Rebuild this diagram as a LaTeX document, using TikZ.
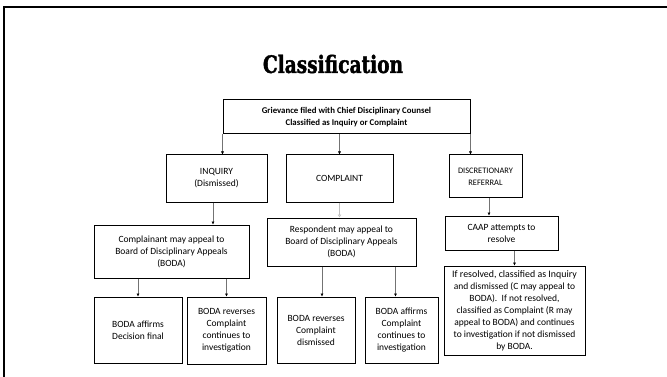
\documentclass[tikz,border=0pt]{standalone}
\usepackage{fontspec}
\setmainfont{Carlito}
\newfontfamily\titlefont[FakeBold=1.6]{DejaVu Serif Condensed Bold}
\usetikzlibrary{arrows.meta}
\newcommand\boxat[6]{\node[box, minimum width={#4-#2}, minimum height={#5-#3}] (#1) at ({(#2+#4)/2},{(#3+#5)/2}) {#6};}
\begin{document}
\begin{tikzpicture}[x=1pt,y=-1pt,
  box/.style={draw=black, line width=1pt, fill=white, inner sep=0pt, align=center, font=\fontsize{9.5}{12}\selectfont},
  conn/.style={draw=black!55, line width=0.5pt, -{Latex[length=3pt,width=3pt,black]}},
  faint/.style={draw=black!25, line width=0.6pt, -{Latex[length=3pt,width=4pt,open,black!25]}},
  frame/.style={draw=black, line width=2pt},
]
\useasboundingbox (0,0) rectangle (667,377);
\draw[frame] (4,378) -- (4,7.5) -- (668,7.5);
\node (title) at (333,64) {\titlefont\fontsize{24}{28}\selectfont\scalebox{0.86}[1]{Classification}};

\boxat{top}{223}{100}{470}{134}{\bfseries\fontsize{8.8}{12}\selectfont Grievance filed with Chief Disciplinary Counsel\\ \bfseries\fontsize{8.8}{12}\selectfont Classified as Inquiry or Complaint}
\boxat{inq}{166}{155}{267}{202}{INQUIRY\\(Dismissed)}
\boxat{comp}{286}{155}{393}{202}{COMPLAINT}
\boxat{disc}{449}{155}{522}{198}{\fontsize{8.4}{10.5}\selectfont DISCRETIONARY\\ \fontsize{8.4}{10.5}\selectfont REFERRAL}
\boxat{cmpl}{94}{225}{249}{278}{Complainant may appeal to\\Board of Disciplinary Appeals\\(BODA)}
\boxat{resp}{267}{218}{416}{266}{Respondent may appeal to\\Board of Disciplinary Appeals\\(BODA)}
\boxat{caap}{445}{216}{558}{250}{CAAP attempts to\\resolve}
\boxat{b1}{94}{297}{182}{363}{BODA affirms\\Decision final}
\boxat{b2}{187}{297}{266}{364}{BODA reverses\\Complaint\\continues to\\investigation}
\boxat{b3}{277}{297}{355}{363}{BODA reverses\\Complaint\\dismissed}
\boxat{b4}{365}{297}{438}{363}{BODA affirms\\Complaint\\continues to\\investigation}
\boxat{b5}{444}{266}{585}{355}{\fontsize{9.9}{11.6}\selectfont If resolved, classified as Inquiry\\and dismissed (C may appeal to\\BODA).\ \ If not resolved,\\classified as Complaint (R may\\appeal to BODA) and continues\\to investigation if not dismissed\\by BODA.}

\draw[conn] (top.south west) -- (top.south west |- inq.north);
\draw[conn] (comp.north |- top.south) -- (comp.north);
\draw[conn] (top.south east) -- (top.south east |- disc.north);
\draw[conn] ([xshift=-3.5pt]inq.south) -- ([xshift=-3.5pt]inq.south |- cmpl.north);
\draw[faint] (comp.south) -- (comp.south |- resp.north);
\draw[conn] ([xshift=3.5pt]disc.south) -- ([xshift=3.5pt]disc.south |- caap.north);
\draw[conn] (b5.north |- caap.south) -- (b5.north);
\draw[conn] (b1.north |- cmpl.south) -- (b1.north);
\draw[conn] (b2.north |- cmpl.south) -- (b2.north);
\draw[conn] ([xshift=6pt]b3.north |- resp.south) -- ([xshift=6pt]b3.north);
\draw[conn] ([xshift=-6pt]b4.north |- resp.south) -- ([xshift=-6pt]b4.north);
\end{tikzpicture}
\end{document}
